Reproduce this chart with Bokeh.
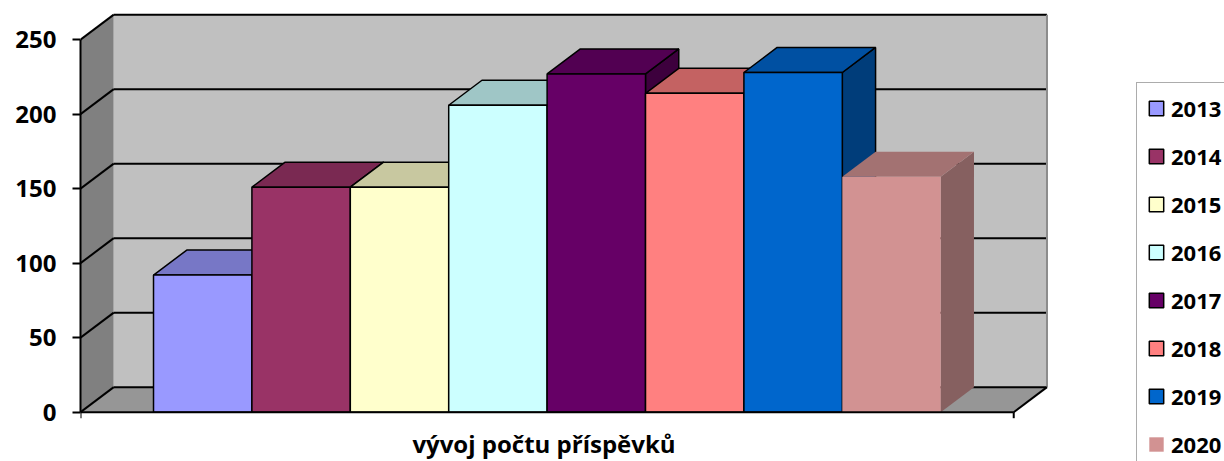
from bokeh.plotting import figure
from bokeh.models import (Range1d, FixedTicker, Legend, LegendItem,
                          ColumnDataSource, LinearAxis)
from bokeh.core.properties import value
from bokeh.embed import file_html
from bokeh.resources import INLINE

# ---- data ----
years = ["2013", "2014", "2015", "2016", "2017", "2018", "2019", "2020"]
counts = [92, 151, 151, 206, 227, 214, 228, 158]
front_colors = ["#9999FF", "#993366", "#FFFFCC", "#CCFFFF", "#660066", "#FF8080", "#0066CC", "#D29292"]
top_colors = ["#7777C6", "#7A2952", "#C8C8A0", "#9FC6C6", "#520052", "#C46262", "#0050A2", "#A37272"]
side_colors = ["#5C5C99", "#5C1F3D", "#99997A", "#7A9999", "#3D003D", "#994D4D", "#003D7A", "#866060"]
outlined = [1, 1, 1, 1, 1, 1, 1, 0]
y_ticks = [0, 50, 100, 150, 200, 250]
title_text = "vývoj  počtu příspěvků"

# ---- 3D geometry (layout constants) ----
X0, XR = -0.742, 8.742      # floor front edges (category units)
DX, DY = 0.338, 16.8        # depth offset (category units, value units)
YMAX = 250
PX_X, PX_Y = 98.4, 1.49     # pixels per unit
FONT = "Open Sans"
W, H = 1224, 461
LEFT, ZERO_Y = 80, 411.7

p = figure(width=W, height=H, output_backend="svg", toolbar_location=None,
           x_range=Range1d(X0, X0 + (W - LEFT) / PX_X),
           y_range=Range1d(-(H - ZERO_Y) / PX_Y, ZERO_Y / PX_Y),
           x_axis_type=None, y_axis_type=None,
           min_border_left=LEFT, min_border_right=0, min_border_top=0, min_border_bottom=0)
p.outline_line_color = None
p.background_fill_color = "white"

# walls and floor
p.patch([X0, X0 + DX, X0 + DX, X0], [0, DY, YMAX + DY, YMAX], fill_color="#808080", line_color=None)
p.quad(left=[X0 + DX], right=[XR + DX], bottom=[DY], top=[YMAX + DY], fill_color="#C0C0C0", line_color=None)
p.patch([X0, XR, XR + DX, X0 + DX], [0, 0, DY, DY], fill_color="#969696", line_color=None)

# gridlines on left and back walls
k = len(y_ticks)
p.segment(x0=[X0] * k, y0=y_ticks, x1=[X0 + DX] * k, y1=[t + DY for t in y_ticks],
          line_color="black", line_width=2)
p.segment(x0=[X0 + DX] * k, y0=[t + DY for t in y_ticks], x1=[XR + DX] * k,
          y1=[t + DY for t in y_ticks], line_color="black", line_width=2)
p.segment(x0=[XR + DX], y0=[DY], x1=[XR + DX], y1=[YMAX + DY], line_color="#8C8C8C", line_width=2)
p.segment(x0=[XR], y0=[0], x1=[XR + DX], y1=[DY], line_color="black", line_width=2)

# bars
n = len(counts)
lefts = list(range(n))
src = ColumnDataSource(dict(
    left=lefts, right=[i + 1 for i in lefts], top=counts, bottom=[0] * n,
    front=front_colors, topc=top_colors, sidec=side_colors,
    la=[float(o) for o in outlined], year=years,
    sx=[[i + 1, i + 1 + DX, i + 1 + DX, i + 1] for i in lefts],
    sy=[[0, DY, v + DY, v] for v in counts],
    tx=[[i, i + 1, i + 1 + DX, i + DX] for i in lefts],
    ty=[[v, v, v + DY, v + DY] for v in counts],
))
p.patches("sx", "sy", source=src, fill_color="sidec", line_color="black", line_alpha="la", line_width=1.5)
p.patches("tx", "ty", source=src, fill_color="topc", line_color="black", line_alpha="la", line_width=1.5)
fr = p.quad(left="left", right="right", bottom="bottom", top="top", source=src,
            fill_color="front", line_color="black", line_alpha="la", line_width=1.5)

# category axis: front floor edge with end ticks
tick_len = 6 / PX_Y
p.segment(x0=[X0], y0=[0], x1=[XR], y1=[0], line_color="black", line_width=2)
p.segment(x0=[X0, XR], y0=[0, 0], x1=[X0, XR], y1=[-tick_len, -tick_len], line_color="black", line_width=2)

# value axis
yax = LinearAxis(ticker=FixedTicker(ticks=y_ticks), bounds=(0, YMAX),
                 major_tick_out=8, major_tick_in=0, minor_tick_out=0, minor_tick_in=0,
                 axis_line_width=2, axis_line_color="black",
                 major_tick_line_width=2, major_tick_line_color="black",
                 major_label_standoff=16, major_label_text_font=FONT,
                 major_label_text_font_size="24px", major_label_text_font_style="bold",
                 major_label_text_color="black")
p.add_layout(yax, "left")

# title below the chart
p.text(x=[(X0 + XR) / 2], y=[-(459.5 - ZERO_Y) / PX_Y], text=[title_text],
       text_align="center", text_baseline="bottom", text_font=value(FONT),
       text_font_size="24px", text_font_style="bold", text_color="black")

# legend
items = [LegendItem(label=years[i], renderers=[fr], index=i) for i in range(n)]
legend = Legend(items=items, location=(1136 - LEFT, -9), padding=10, spacing=18,
                glyph_width=18, glyph_height=18, label_height=26, label_standoff=6,
                label_text_font=FONT, label_text_font_size="22px", label_text_font_style="bold",
                label_text_color="black", border_line_color="#5A5A5A", border_line_width=1.5,
                background_fill_color="white", background_fill_alpha=1.0, margin=0)
p.add_layout(legend)

open("out.html", "w").write(file_html(p, INLINE))
